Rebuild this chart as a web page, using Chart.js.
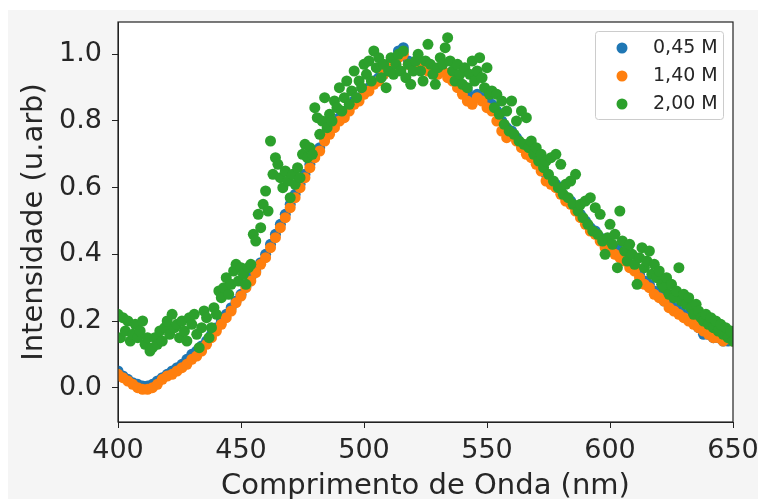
<!DOCTYPE html>
<html>
<head>
<meta charset="utf-8">
<script src="https://cdn.jsdelivr.net/npm/chart.js@4.4.1/dist/chart.umd.min.js"></script>
<style>
    body { margin: 0; background: #ffffff; }
    #bg { position: absolute; left: 8px; top: 10px; width: 750px; height: 489px; background: #f5f5f5; }
    #chart { position: absolute; left: 0; top: 0; }
</style>
</head>
<body>
<div id="bg"></div>
<canvas id="chart" width="758" height="499"></canvas>
<script>
// comprimento de onda (nm), passo de 2 nm
const wavelengths = [
    400, 402, 404, 406, 408, 410, 412, 414, 416, 418, 420, 422, 424, 426, 428, 430, 432, 434, 436, 438,
    440, 442, 444, 446, 448, 450, 452, 454, 456, 458, 460, 462, 464, 466, 468, 470, 472, 474, 476, 478,
    480, 482, 484, 486, 488, 490, 492, 494, 496, 498, 500, 502, 504, 506, 508, 510, 512, 514, 516, 518,
    520, 522, 524, 526, 528, 530, 532, 534, 536, 538, 540, 542, 544, 546, 548, 550, 552, 554, 556, 558,
    560, 562, 564, 566, 568, 570, 572, 574, 576, 578, 580, 582, 584, 586, 588, 590, 592, 594, 596, 598,
    600, 602, 604, 606, 608, 610, 612, 614, 616, 618, 620, 622, 624, 626, 628, 630, 632, 634, 636, 638,
    640, 642, 644, 646, 648, 650
];

// comprimento de onda (nm), passo de 1 nm (amostra 2,00 M)
const wavelengthsFine = [
    400, 401, 402, 403, 404, 405, 406, 407, 408, 409, 410, 411, 412, 413, 414, 415, 416, 417, 418, 419,
    420, 421, 422, 423, 424, 425, 426, 427, 428, 429, 430, 431, 432, 433, 434, 435, 436, 437, 438, 439,
    440, 441, 442, 443, 444, 445, 446, 447, 448, 449, 450, 451, 452, 453, 454, 455, 456, 457, 458, 459,
    460, 461, 462, 463, 464, 465, 466, 467, 468, 469, 470, 471, 472, 473, 474, 475, 476, 477, 478, 479,
    480, 481, 482, 483, 484, 485, 486, 487, 488, 489, 490, 491, 492, 493, 494, 495, 496, 497, 498, 499,
    500, 501, 502, 503, 504, 505, 506, 507, 508, 509, 510, 511, 512, 513, 514, 515, 516, 517, 518, 519,
    520, 521, 522, 523, 524, 525, 526, 527, 528, 529, 530, 531, 532, 533, 534, 535, 536, 537, 538, 539,
    540, 541, 542, 543, 544, 545, 546, 547, 548, 549, 550, 551, 552, 553, 554, 555, 556, 557, 558, 559,
    560, 561, 562, 563, 564, 565, 566, 567, 568, 569, 570, 571, 572, 573, 574, 575, 576, 577, 578, 579,
    580, 581, 582, 583, 584, 585, 586, 587, 588, 589, 590, 591, 592, 593, 594, 595, 596, 597, 598, 599,
    600, 601, 602, 603, 604, 605, 606, 607, 608, 609, 610, 611, 612, 613, 614, 615, 616, 617, 618, 619,
    620, 621, 622, 623, 624, 625, 626, 627, 628, 629, 630, 631, 632, 633, 634, 635, 636, 637, 638, 639,
    640, 641, 642, 643, 644, 645, 646, 647, 648, 649, 650
];

// 0,45 M
const int045 = [
    0.05, 0.035, 0.025, 0.015, 0.01, 0.005, 0.005, 0.01, 0.02, 0.03, 0.04, 0.05, 0.06, 0.07, 0.085, 0.10, 0.11, 0.125, 0.14, 0.16,
    0.18, 0.20, 0.22, 0.24, 0.26, 0.28, 0.305, 0.33, 0.35, 0.375, 0.40, 0.43, 0.46, 0.49, 0.52, 0.55, 0.58, 0.61, 0.64, 0.67,
    0.70, 0.72, 0.75, 0.77, 0.79, 0.81, 0.82, 0.84, 0.86, 0.87, 0.89, 0.90, 0.92, 0.93, 0.94, 0.96, 0.98, 1.01, 1.02, 0.98,
    0.97, 0.98, 0.975, 0.97, 0.96, 0.955, 0.95, 0.94, 0.93, 0.92, 0.90, 0.89, 0.87, 0.88, 0.87, 0.86, 0.85, 0.83, 0.80, 0.78,
    0.77, 0.75, 0.73, 0.72, 0.70, 0.68, 0.66, 0.64, 0.62, 0.61, 0.59, 0.57, 0.56, 0.54, 0.52, 0.50, 0.48, 0.47, 0.45, 0.43,
    0.42, 0.42, 0.41, 0.39, 0.37, 0.36, 0.34, 0.32, 0.31, 0.29, 0.28, 0.26, 0.25, 0.24, 0.23, 0.22, 0.21, 0.20, 0.18, 0.16,
    0.16, 0.15, 0.15, 0.14, 0.14, 0.14
];

// 1,40 M
const int140 = [
    0.04, 0.03, 0.02, 0.01, 0.0, -0.005, -0.005, 0.0, 0.01, 0.025, 0.035, 0.04, 0.05, 0.06, 0.07, 0.085, 0.095, 0.11, 0.13, 0.15,
    0.17, 0.19, 0.21, 0.23, 0.255, 0.275, 0.30, 0.32, 0.345, 0.37, 0.39, 0.42, 0.45, 0.48, 0.51, 0.54, 0.57, 0.60, 0.63, 0.66,
    0.69, 0.71, 0.74, 0.76, 0.78, 0.80, 0.81, 0.83, 0.85, 0.86, 0.88, 0.89, 0.91, 0.92, 0.94, 0.95, 0.97, 0.99, 1.00, 0.97,
    0.96, 0.97, 0.96, 0.95, 0.96, 0.94, 0.95, 0.93, 0.92, 0.90, 0.88, 0.86, 0.85, 0.87, 0.86, 0.84, 0.83, 0.80, 0.77, 0.75,
    0.76, 0.74, 0.72, 0.70, 0.69, 0.67, 0.65, 0.62, 0.61, 0.60, 0.58, 0.56, 0.55, 0.53, 0.51, 0.49, 0.47, 0.46, 0.44, 0.42,
    0.41, 0.40, 0.39, 0.38, 0.36, 0.35, 0.33, 0.31, 0.30, 0.28, 0.27, 0.26, 0.24, 0.23, 0.22, 0.21, 0.20, 0.19, 0.18, 0.17,
    0.16, 0.15, 0.15, 0.14, 0.15, 0.14
];

// 2,00 M (passo de 1 nm)
const int200 = [
    0.22, 0.15, 0.21, 0.17, 0.20, 0.14, 0.16, 0.19, 0.15, 0.17, 0.20, 0.13, 0.15, 0.11, 0.12, 0.15, 0.13, 0.17, 0.14, 0.18,
    0.20, 0.16, 0.22, 0.18, 0.19, 0.15, 0.20, 0.17, 0.14, 0.21, 0.19, 0.22, 0.16, 0.12, 0.18, 0.23, 0.21, 0.15, 0.18, 0.24,
    0.22, 0.29, 0.27, 0.30, 0.33, 0.28, 0.31, 0.35, 0.37, 0.32, 0.36, 0.34, 0.31, 0.36, 0.37, 0.46, 0.44, 0.52, 0.48, 0.55,
    0.59, 0.53, 0.74, 0.64, 0.69, 0.67, 0.63, 0.60, 0.65, 0.62, 0.57, 0.64, 0.61, 0.66, 0.63, 0.70, 0.73, 0.69, 0.72, 0.70,
    0.84, 0.81, 0.76, 0.80, 0.87, 0.78, 0.82, 0.80, 0.86, 0.84, 0.90, 0.83, 0.87, 0.92, 0.85, 0.89, 0.95, 0.87, 0.92, 0.90,
    0.97, 0.94, 0.98, 0.92, 1.01, 0.96, 0.99, 0.93, 0.97, 0.90, 0.95, 0.99, 0.94, 0.97, 1.00, 0.95, 1.01, 0.93, 0.97, 0.91,
    0.95, 0.98, 1.00, 0.95, 0.92, 0.98, 1.03, 0.97, 0.94, 0.91, 0.96, 0.99, 0.97, 1.02, 1.05, 0.98, 0.95, 0.92, 0.97, 0.94,
    0.91, 0.96, 0.90, 0.94, 0.98, 0.92, 0.95, 0.99, 0.93, 0.90, 0.96, 0.88, 0.89, 0.84, 0.88, 0.82, 0.86, 0.79, 0.83, 0.77,
    0.86, 0.76, 0.80, 0.74, 0.83, 0.73, 0.81, 0.72, 0.74, 0.70, 0.72, 0.68, 0.70, 0.66, 0.68, 0.64, 0.69, 0.62, 0.70, 0.60,
    0.67, 0.58, 0.61, 0.57, 0.62, 0.55, 0.64, 0.53, 0.55, 0.51, 0.56, 0.49, 0.57, 0.47, 0.54, 0.46, 0.52, 0.44, 0.40, 0.45,
    0.49, 0.43, 0.46, 0.36, 0.53, 0.44, 0.41, 0.38, 0.43, 0.40, 0.37, 0.31, 0.39, 0.42, 0.36, 0.38, 0.41, 0.34, 0.37, 0.33,
    0.35, 0.31, 0.30, 0.33, 0.28, 0.31, 0.27, 0.29, 0.36, 0.26, 0.28, 0.25, 0.27, 0.24, 0.22, 0.25, 0.23, 0.21, 0.20, 0.22,
    0.19, 0.21, 0.18, 0.20, 0.17, 0.19, 0.16, 0.18, 0.15, 0.17, 0.14
];

const seriesLabels = ["0,45 M", "1,40 M", "2,00 M"];
const seriesColors = ["#1f77b4", "#ff7f0e", "#2ca02c"];
const xTicks = [400, 450, 500, 550, 600, 650];
const yTicks = [0.0, 0.2, 0.4, 0.6, 0.8, 1.0];

function toPoints(xs, values) {
    return values.map((v, i) => ({ x: xs[i], y: v }));
}

const FONT = "'DejaVu Sans', sans-serif";
const TEXT = "#262626";
const AXIS = "#222222";

// fundo branco + moldura
const framePlugin = {
    id: "frame",
    beforeDraw(chart) {
        const a = chart.chartArea;
        const c = chart.ctx;
        c.save();
        c.fillStyle = "#ffffff";
        c.fillRect(a.left, a.top, a.right - a.left, a.bottom - a.top);
        c.restore();
    },
    afterDraw(chart) {
        const a = chart.chartArea;
        const c = chart.ctx;
        c.save();
        c.strokeStyle = AXIS;
        c.lineWidth = 1.2;
        c.strokeRect(a.left, a.top, a.right - a.left, a.bottom - a.top);
        c.restore();
    }
};

// legenda dentro do gráfico (canto superior direito)
const legendPlugin = {
    id: "innerLegend",
    afterDraw(chart) {
        const c = chart.ctx;
        const a = chart.chartArea;
        const boxW = 128, boxH = 88;
        const x0 = a.right - 10 - boxW, y0 = a.top + 9;
        c.save();
        c.fillStyle = "rgba(255,255,255,0.8)";
        c.strokeStyle = "#cccccc";
        c.lineWidth = 1;
        c.beginPath();
        c.roundRect(x0 + 0.5, y0 + 0.5, boxW, boxH, 3);
        c.fill();
        c.stroke();
        c.font = "19px " + FONT;
        c.textBaseline = "middle";
        c.textAlign = "left";
        seriesLabels.forEach((label, i) => {
            const cy = y0 + 17 + i * 28;
            c.fillStyle = seriesColors[i];
            c.beginPath();
            c.arc(x0 + 27, cy, 5.5, 0, Math.PI * 2);
            c.fill();
            c.fillStyle = TEXT;
            c.fillText(label, x0 + 58, cy);
        });
        c.restore();
    }
};

const seriesData = [
    toPoints(wavelengths, int045),
    toPoints(wavelengths, int140),
    toPoints(wavelengthsFine, int200)
];

const datasets = seriesData.map((pts, i) => ({
    label: seriesLabels[i],
    data: pts,
    backgroundColor: seriesColors[i],
    borderWidth: 0,
    pointRadius: 5.5,
    pointHoverRadius: 5.5,
    order: 3 - i
}));

function noEdgePadding(s) {
    s.paddingTop = 0;
    s.paddingBottom = 0;
    s.paddingLeft = 0;
    s.paddingRight = 0;
}

new Chart(document.getElementById("chart"), {
    type: "scatter",
    data: { datasets: datasets },
    options: {
        responsive: false,
        animation: false,
        layout: { padding: { top: 22, right: 25, left: 0, bottom: 0 } },
        plugins: {
            legend: { display: false },
            tooltip: { enabled: false }
        },
        scales: {
            x: {
                type: "linear",
                min: 400,
                max: 650,
                afterBuildTicks: s => { s.ticks = xTicks.map(v => ({ value: v })); },
                afterFit: s => { s.height = 77; noEdgePadding(s); },
                grid: { drawOnChartArea: false, drawTicks: true, tickLength: 6, color: AXIS },
                border: { color: AXIS },
                ticks: {
                    color: TEXT,
                    padding: 7,
                    maxRotation: 0,
                    font: { family: FONT, size: 27 },
                    callback: v => String(v)
                },
                title: {
                    display: true,
                    text: "Comprimento de Onda (nm)",
                    color: TEXT,
                    font: { family: FONT, size: 29, lineHeight: 0.7 },
                    padding: { top: 0, bottom: 2 }
                }
            },
            y: {
                type: "linear",
                min: -0.103,
                max: 1.097,
                afterBuildTicks: s => { s.ticks = yTicks.map(v => ({ value: v })); },
                afterFit: s => { s.width = 118; noEdgePadding(s); },
                grid: { drawOnChartArea: false, drawTicks: true, tickLength: 6, color: AXIS },
                border: { color: AXIS },
                ticks: {
                    color: TEXT,
                    padding: 10,
                    font: { family: FONT, size: 27 },
                    callback: v => v.toFixed(1)
                },
                title: {
                    display: true,
                    text: "Intensidade (u.arb)",
                    color: TEXT,
                    font: { family: FONT, size: 29 },
                    padding: { top: 17, bottom: 0 }
                }
            }
        }
    },
    plugins: [framePlugin, legendPlugin]
});
</script>
</body>
</html>
